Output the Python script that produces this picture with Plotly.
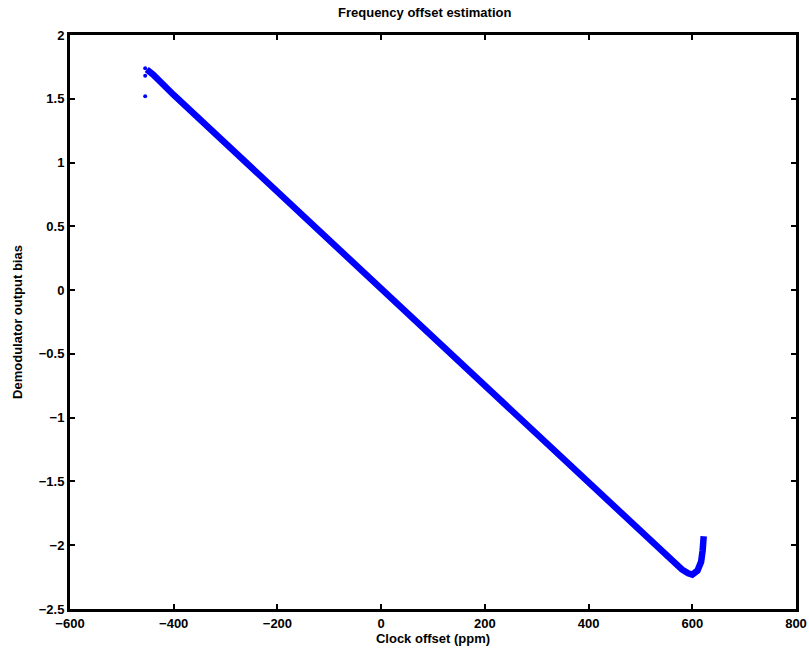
import plotly.graph_objects as go

clock_ppm = [-452, -440, -400, -350, -300, -250, -200, -150, -100, -50, 0, 50, 100,
             150, 200, 250, 300, 350, 400, 450, 500, 540, 565, 580, 592, 600, 610,
             617, 620, 622]
bias = [1.73, 1.69, 1.53, 1.34, 1.15, 0.96, 0.76, 0.57, 0.38, 0.19, 0.01, -0.18, -0.37,
        -0.56, -0.75, -0.94, -1.13, -1.32, -1.52, -1.71, -1.90, -2.05, -2.14, -2.19,
        -2.22, -2.23, -2.20, -2.13, -2.04, -1.93]
outlier_x = [-455, -455, -455]
outlier_y = [1.52, 1.68, 1.74]

FONT = "Liberation Sans Narrow, Liberation Sans, Arial, sans-serif"

fig = go.Figure()
fig.add_trace(go.Scatter(x=clock_ppm, y=bias, mode="lines",
                         line=dict(color="#0000ff", width=6.5), showlegend=False))
fig.add_trace(go.Scatter(x=outlier_x, y=outlier_y, mode="markers",
                         marker=dict(color="#0000ff", size=4), showlegend=False))

axis_common = dict(showgrid=False, zeroline=False, showline=True, linecolor="black",
                   linewidth=3, mirror="ticks", ticks="inside", ticklen=5,
                   tickwidth=2, tickcolor="black", automargin=False,
                   tickfont=dict(family=FONT, size=13, color="black", weight="bold"))

fig.update_layout(
    width=809, height=652,
    margin=dict(l=70, r=13, t=35, b=43),
    paper_bgcolor="white", plot_bgcolor="white",
    title=dict(text="<b>Frequency offset estimation</b>", x=0.525, xanchor="center",
               y=1 - 12 / 652, yanchor="middle", yref="container",
               font=dict(family=FONT, size=13, color="black")),
    xaxis=dict(range=[-600, 800], tickvals=[-600, -400, -200, 0, 200, 400, 600, 800],
               title=dict(text="<b>Clock offset (ppm)</b>", standoff=5,
                          font=dict(family=FONT, size=13, color="black")),
               **axis_common),
    yaxis=dict(range=[-2.5, 2], tickvals=[-2.5, -2, -1.5, -1, -0.5, 0, 0.5, 1, 1.5, 2],
               ticktext=["−2.5", "−2", "−1.5", "−1", "−0.5", "0", "0.5", "1", "1.5", "2"],
               title=dict(text="<b>Demodulator output bias</b>", standoff=14,
                          font=dict(family=FONT, size=13, color="black")),
               **axis_common),
)

fig.write_html("out.html", config={"displayModeBar": False},
               post_script="document.body.style.margin='0';document.body.style.overflow='hidden';")
